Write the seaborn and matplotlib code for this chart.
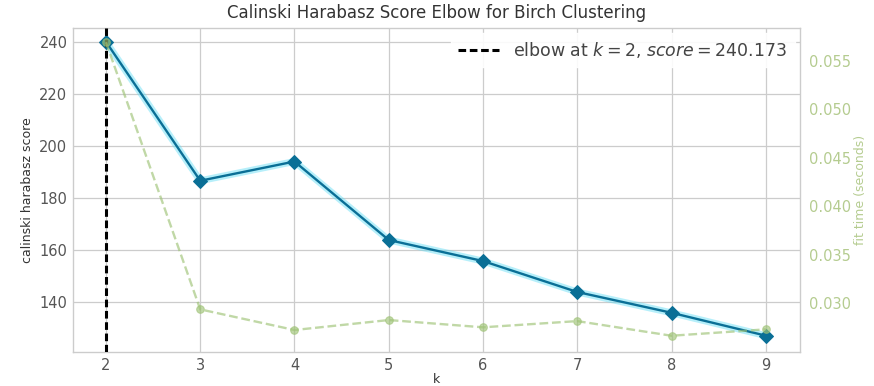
import matplotlib
matplotlib.use("Agg")
import matplotlib.pyplot as plt
import seaborn as sns
import pandas as pd

# Elbow search results for Birch clustering
k_values = [2, 3, 4, 5, 6, 7, 8, 9]
ch_scores = [240.173, 186.7, 194.1, 163.9, 155.8, 143.9, 135.9, 127.1]
fit_times = [0.0569, 0.02935, 0.02722, 0.02825, 0.0275, 0.02814, 0.02663, 0.02729]
elbow_k = 2
elbow_score = 240.173

score_color = "#0a6f96"
time_color = "#9fc377"

sns.set_theme(style="whitegrid")
plt.rcParams["font.family"] = ["DejaVu Sans"]

df = pd.DataFrame({"k": k_values, "score": ch_scores, "time": fit_times})

fig = plt.figure(figsize=(8.74, 3.86), dpi=100)
ax = fig.add_axes([0.0835, 0.088, 0.8315, 0.839])

# soft halo under the score curve
ax.plot(df["k"], df["score"], color="#5fdcf5", lw=5, alpha=0.45, zorder=2,
        solid_capstyle="round")
sns.lineplot(data=df, x="k", y="score", ax=ax, color=score_color, lw=1.7,
             marker="D", markersize=7, markeredgecolor=score_color, zorder=3)

ax.axvline(elbow_k, color="black", ls=(0, (2.5, 1.2)), lw=2.2, zorder=4,
           label=f"elbow at $k={elbow_k}$, $score={elbow_score:.3f}$")

ax.set_xlim(1.65, 9.36)
ax.set_ylim(120.8, 245.4)
ax.set_xticks(k_values)
ax.set_yticks([140, 160, 180, 200, 220, 240])
ax.set_title("Calinski Harabasz Score Elbow for Birch Clustering", fontsize=12,
             color="#333333", pad=7)
ax.set_xlabel("k", fontsize=9, color="#333333", labelpad=0)
ax.set_ylabel("calinski harabasz score", fontsize=9, color="#333333")
ax.tick_params(axis="both", labelsize=10.5, colors="#555555", length=0, pad=4)
ax.grid(True, color="#cccccc", lw=0.9)
for sp in ax.spines.values():
    sp.set_color("#cccccc")
    sp.set_linewidth(1.0)
leg = ax.legend(loc="upper right", fontsize=12.5, frameon=True, facecolor="white",
                edgecolor="white", framealpha=0.9, handlelength=2.4,
                borderaxespad=0.3)
for t in leg.get_texts():
    t.set_color("#444444")

ax2 = ax.twinx()
sns.lineplot(data=df, x="k", y="time", ax=ax2, color=time_color, lw=1.7,
             ls="--", alpha=0.65, marker="o", markersize=5.5,
             markeredgecolor=time_color)
ax2.set_ylim(0.02495, 0.05835)
ax2.set_yticks([0.030, 0.035, 0.040, 0.045, 0.050, 0.055])
ax2.set_yticklabels([f"{v:.3f}" for v in [0.030, 0.035, 0.040, 0.045, 0.050, 0.055]])
ax2.grid(False)
ax2.set_ylabel("fit time (seconds)", fontsize=9, color="#b5cc90", labelpad=2)
ax2.tick_params(axis="y", labelsize=10.5, colors="#b5cc90", length=0, pad=7)
for sp in ax2.spines.values():
    sp.set_visible(False)

fig.savefig("out.png", dpi=100, facecolor="white")
